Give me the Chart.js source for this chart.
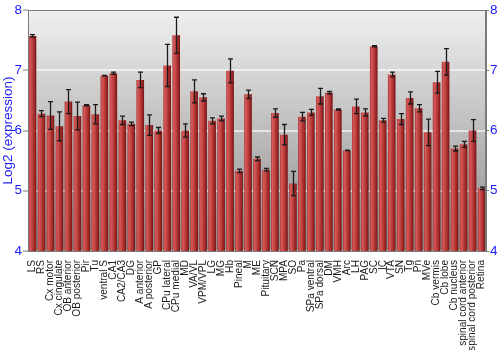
<!DOCTYPE html>
<html>
<head>
<meta charset="utf-8">
<script src="https://cdn.jsdelivr.net/npm/chart.js@4/dist/chart.umd.min.js"></script>
<style>
html,body{margin:0;padding:0;background:#fff;}
#wrap{width:500px;height:350px;position:relative;}
</style>
</head>
<body>
<div id="wrap"><canvas id="c" width="500" height="350"></canvas></div>
<script>
const categories = ["LS","RS","Cx motor","Cx cingulate","OB anterior","OB posterior","Pir","Tu","ventral S","CA1","CA2/CA3","DG","A anterior","A posterior","GP","CPu lateral","CPu medial","MD","VA/VL","VPM/VPL","LG","MG","Hb","Pineal","M","ME","Pituitary","SCN","MPA","SO","Pa","SPa ventral","SPa dorsal","DM","VMH","Arc","LH","PAG","SC","IC","VTA","SN","Tg","Pn","MVe","Cb vermis","Cb lobe","Cb nucleus","spinal cord anterior","spinal cord posterior","Retina"];
const values = [7.57,6.28,6.25,6.07,6.48,6.24,6.42,6.27,6.91,6.95,6.17,6.11,6.84,6.09,6.00,7.08,7.58,6.00,6.65,6.55,6.16,6.20,6.99,5.33,6.60,5.53,5.35,6.29,5.93,5.12,6.23,6.30,6.57,6.63,6.35,5.67,6.40,6.30,7.40,6.17,6.93,6.19,6.54,6.37,5.97,6.80,7.14,5.70,5.77,6.00,5.04];
const errors = [0.02,0.05,0.23,0.24,0.20,0.23,0.01,0.16,0.005,0.02,0.07,0.03,0.13,0.17,0.05,0.35,0.30,0.11,0.19,0.06,0.05,0.04,0.20,0.03,0.07,0.03,0.02,0.07,0.17,0.20,0.07,0.05,0.13,0.02,0.01,0.005,0.12,0.06,0.01,0.03,0.04,0.09,0.10,0.06,0.22,0.18,0.22,0.04,0.05,0.18,0.02];
const yTicks = [4,5,6,7,8];
const yTitle = "Log2 (expression)";

const BAR_PCT = 0.85;

const bgPlugin = {
  id: 'bgPlugin',
  beforeDraw(chart) {
    const {ctx, chartArea: a} = chart;
    const g = ctx.createLinearGradient(0, a.top, 0, a.bottom);
    g.addColorStop(0, '#f0f0f0');
    g.addColorStop(1, '#8a8a8a');
    ctx.save();
    ctx.fillStyle = g;
    ctx.fillRect(a.left, a.top, a.right - a.left, a.bottom - a.top);
    ctx.restore();
  },
  afterDatasetsDraw(chart) {
    const {ctx, chartArea: a, scales} = chart;
    const meta = chart.getDatasetMeta(0);
    const ys = scales.y;
    ctx.save();
    ctx.strokeStyle = '#1a1a1a';
    ctx.lineWidth = 1.3;
    meta.data.forEach((bar, i) => {
      const x = Math.round(bar.x) + 0.5;
      const yT = ys.getPixelForValue(values[i] + errors[i]);
      const yB = ys.getPixelForValue(values[i] - errors[i]);
      ctx.beginPath();
      ctx.moveTo(x, yT); ctx.lineTo(x, yB);
      ctx.moveTo(x - 2.5, yT); ctx.lineTo(x + 2.5, yT);
      ctx.moveTo(x - 2.5, yB); ctx.lineTo(x + 2.5, yB);
      ctx.stroke();
    });
    ctx.strokeStyle = '#7a7a7a';
    ctx.lineWidth = 1;
    ctx.strokeRect(Math.round(a.left) + 0.5, Math.round(a.top) + 0.5, Math.round(a.right - a.left) - 1, Math.round(a.bottom - a.top));
    ctx.restore();
  }
};

function barFill(context) {
  const chart = context.chart;
  const xs = chart.scales && chart.scales.x;
  if (!xs || context.type !== 'data' || !isFinite(xs.width) || xs.width <= 0) return '#b03434';
  const x = xs.getPixelForValue(context.dataIndex);
  const w = (xs.width / categories.length) * BAR_PCT;
  const g = chart.ctx.createLinearGradient(x - w / 2, 0, x + w / 2, 0);
  g.addColorStop(0, '#a83030');
  g.addColorStop(0.18, '#d65a5a');
  g.addColorStop(0.45, '#c24444');
  g.addColorStop(0.8, '#9a2424');
  g.addColorStop(1, '#701414');
  return g;
}

const tickFont = {family: '"Liberation Sans", Arial, sans-serif', size: 13.5};

new Chart(document.getElementById('c'), {
  type: 'bar',
  data: {
    labels: categories,
    datasets: [{
      data: values,
      backgroundColor: barFill,
      borderWidth: 0,
      barPercentage: BAR_PCT,
      categoryPercentage: 1.0
    }]
  },
  plugins: [bgPlugin],
  options: {
    responsive: false,
    animation: false,
    devicePixelRatio: 1,
    layout: {padding: {top: 10, left: 0, right: 0, bottom: 0}},
    plugins: {legend: {display: false}, tooltip: {enabled: false}},
    scales: {
      x: {
        grid: {display: false},
        border: {display: false},
        ticks: {
          autoSkip: false, maxRotation: 90, minRotation: 90, padding: 1,
          color: '#1a1a1a',
          font: {family: '"Liberation Sans", Arial, sans-serif', size: 10.1}
        },
        afterFit(s) { s.height = 99; }
      },
      y: {
        position: 'left',
        min: 4, max: 8,
        afterBuildTicks(s) { s.ticks = yTicks.map(v => ({value: v})); },
        grid: {
          color: 'rgba(255,255,255,0.6)', lineWidth: 2,
          tickColor: '#7a7a7a', tickLength: 5, tickWidth: 1
        },
        border: {display: true, color: '#7a7a7a'},
        ticks: {color: '#1a1aff', font: tickFont, padding: 1},
        title: {display: true, text: yTitle, color: '#1a1aff', font: tickFont, padding: {top: 0, bottom: 0}},
        afterFit(s) { s.width = 28; }
      },
      y2: {
        position: 'right',
        min: 4, max: 8,
        afterBuildTicks(s) { s.ticks = yTicks.map(v => ({value: v})); },
        grid: {drawOnChartArea: false, tickColor: '#7a7a7a', tickLength: 3},
        border: {display: true, color: '#7a7a7a'},
        ticks: {color: '#1a1aff', font: tickFont, padding: 1},
        afterFit(s) { s.width = 14; }
      }
    }
  }
});
</script>
</body>
</html>
